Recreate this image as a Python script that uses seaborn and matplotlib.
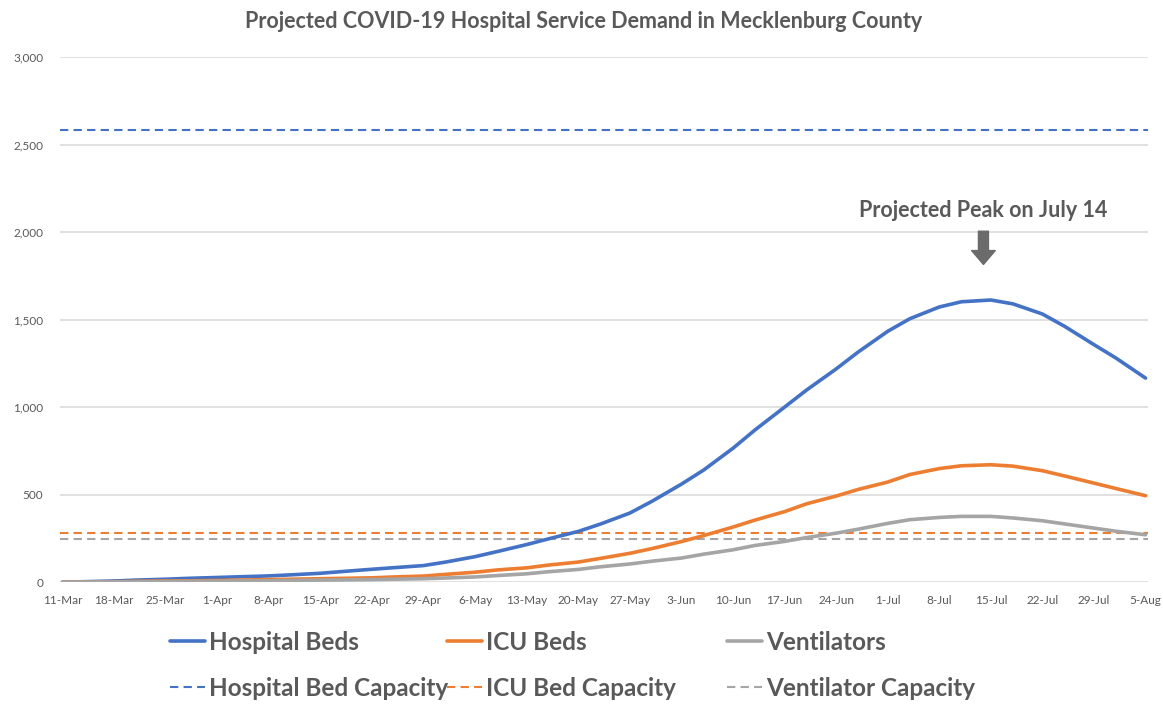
import pandas as pd
import matplotlib.pyplot as plt
import seaborn as sns

# ---------------------------
# data (twice a week)
# ---------------------------
point_dates = ['2020-03-11', '2020-03-14', '2020-03-18', '2020-03-21', '2020-03-25', '2020-03-28',
               '2020-04-01', '2020-04-04', '2020-04-08', '2020-04-11', '2020-04-15', '2020-04-18',
               '2020-04-22', '2020-04-25', '2020-04-29', '2020-05-02', '2020-05-06', '2020-05-09',
               '2020-05-13', '2020-05-16', '2020-05-20', '2020-05-23', '2020-05-27', '2020-05-30',
               '2020-06-03', '2020-06-06', '2020-06-10', '2020-06-13', '2020-06-17', '2020-06-20',
               '2020-06-24', '2020-06-27', '2020-07-01', '2020-07-04', '2020-07-08', '2020-07-11',
               '2020-07-15', '2020-07-18', '2020-07-22', '2020-07-25', '2020-07-29', '2020-08-01',
               '2020-08-05']
hospital_beds = [0, 3, 7, 12, 17, 22, 27, 31, 36, 42, 51, 61, 74, 83, 95, 115, 146, 175,
                 215, 248, 290, 332, 395, 462, 560, 640, 765, 870, 1000, 1098, 1218, 1315,
                 1433, 1505, 1572, 1602, 1612, 1590, 1532, 1462, 1357, 1280, 1166]
icu_beds = [0, 1, 3, 5, 7, 8, 10, 12, 15, 17, 20, 22, 25, 30, 35, 45, 57, 70,
            82, 98, 115, 136, 165, 192, 232, 266, 315, 355, 403, 448, 492, 530,
            572, 615, 649, 665, 671, 663, 637, 607, 566, 535, 494]
ventilators = [0, 1, 2, 3, 4, 5, 6, 7, 8, 10, 12, 13, 15, 17, 20, 24, 30, 38,
               48, 60, 73, 88, 104, 120, 138, 160, 185, 210, 233, 255, 280, 303,
               336, 357, 370, 376, 376, 367, 351, 333, 309, 291, 271]

hospital_bed_capacity = 2585
icu_bed_capacity = 282
ventilator_capacity = 245

week_labels = ['11-Mar', '18-Mar', '25-Mar', '1-Apr', '8-Apr', '15-Apr', '22-Apr',
               '29-Apr', '6-May', '13-May', '20-May', '27-May', '3-Jun', '10-Jun',
               '17-Jun', '24-Jun', '1-Jul', '8-Jul', '15-Jul', '22-Jul', '29-Jul', '5-Aug']
y_ticks = [0, 500, 1000, 1500, 2000, 2500, 3000]

peak_date = '14-Jul'
peak_text = 'Projected Peak on July 14'

# colours (Excel default palette)
blue, orange, gray = '#4472C4', '#ED7D31', '#A5A5A5'
text_color = '#595959'

# ---------------------------
# setup
# ---------------------------
sns.set_theme(style="whitegrid")
plt.rcParams['font.family'] = ['Lato', 'DejaVu Sans']

df = pd.DataFrame({'date': pd.to_datetime(point_dates), 'Hospital Beds': hospital_beds,
                   'ICU Beds': icu_beds, 'Ventilators': ventilators})
tick_dates = pd.to_datetime([d + '-2020' for d in week_labels], format='%d-%b-%Y')

fig = plt.figure(figsize=(11.63, 7.04), dpi=100)
ax = fig.add_axes([0.0516, 0.173, 0.9355, 0.746])

# capacity lines
dash = (4, 2.5)
cap_lines = []
for val, col, name in [(hospital_bed_capacity, blue, 'Hospital Bed Capacity'),
                       (icu_bed_capacity, orange, 'ICU Bed Capacity'),
                       (ventilator_capacity, gray, 'Ventilator Capacity')]:
    ln = ax.axhline(val, color=col, lw=1.5, dashes=dash, label=name)
    cap_lines.append(ln)

# demand curves
for name, col in [('Hospital Beds', blue), ('ICU Beds', orange), ('Ventilators', gray)]:
    sns.lineplot(data=df, x='date', y=name, color=col, linewidth=2.6, ax=ax,
                 label=name, legend=False)
demand_lines = ax.get_lines()[3:6]
if ax.get_legend() is not None:
    ax.get_legend().remove()

# axes styling
ax.set_ylim(0, 3000)
ax.set_yticks(y_ticks)
ax.set_yticklabels([f'{v:,}' for v in y_ticks])
ax.set_xlim(tick_dates[0] - pd.Timedelta(hours=8), tick_dates[-1] + pd.Timedelta(hours=8))
ax.set_xticks(tick_dates)
ax.set_xticklabels(week_labels)
ax.set_xlabel('')
ax.set_ylabel('')
ax.grid(axis='x', visible=False)
ax.grid(axis='y', color='#D9D9D9', linewidth=1.1)
for s in ax.spines.values():
    s.set_visible(False)
ax.tick_params(length=0, colors=text_color, labelsize=8.5)
ax.tick_params(axis='x', pad=9)
ax.tick_params(axis='y', pad=12)

# title
fig.text(0.502, 0.970, 'Projected COVID-19 Hospital Service Demand in Mecklenburg County',
         ha='center', va='center', fontsize=15.5, fontweight='bold', color=text_color)

# peak annotation
pk = pd.to_datetime(peak_date + '-2020', format='%d-%b-%Y')
ax.text(pk, 2125, peak_text, ha='center', va='center', fontsize=15.5,
        fontweight='bold', color=text_color)
ax.annotate('', xy=(pk, 1815), xytext=(pk, 2005),
            arrowprops=dict(arrowstyle='simple,head_width=0.85,head_length=0.5,tail_width=0.36',
                            color='#6B6B6B', mutation_scale=20, shrinkA=0, shrinkB=0))

# legends: three columns placed like the Excel legend
for i, x0 in enumerate([170, 447, 727]):
    leg = fig.legend([demand_lines[i], cap_lines[i]],
                     [demand_lines[i].get_label(), cap_lines[i].get_label()],
                     loc='upper left', bbox_to_anchor=(x0 / 1163, 0.1037),
                     frameon=False, fontsize=17.5, handlelength=1.45, handletextpad=0.15,
                     labelspacing=0.93, borderpad=0, borderaxespad=0)
    for t in leg.get_texts():
        t.set_color(text_color)
        t.set_fontweight('bold')

fig.savefig('out.png', dpi=100)
